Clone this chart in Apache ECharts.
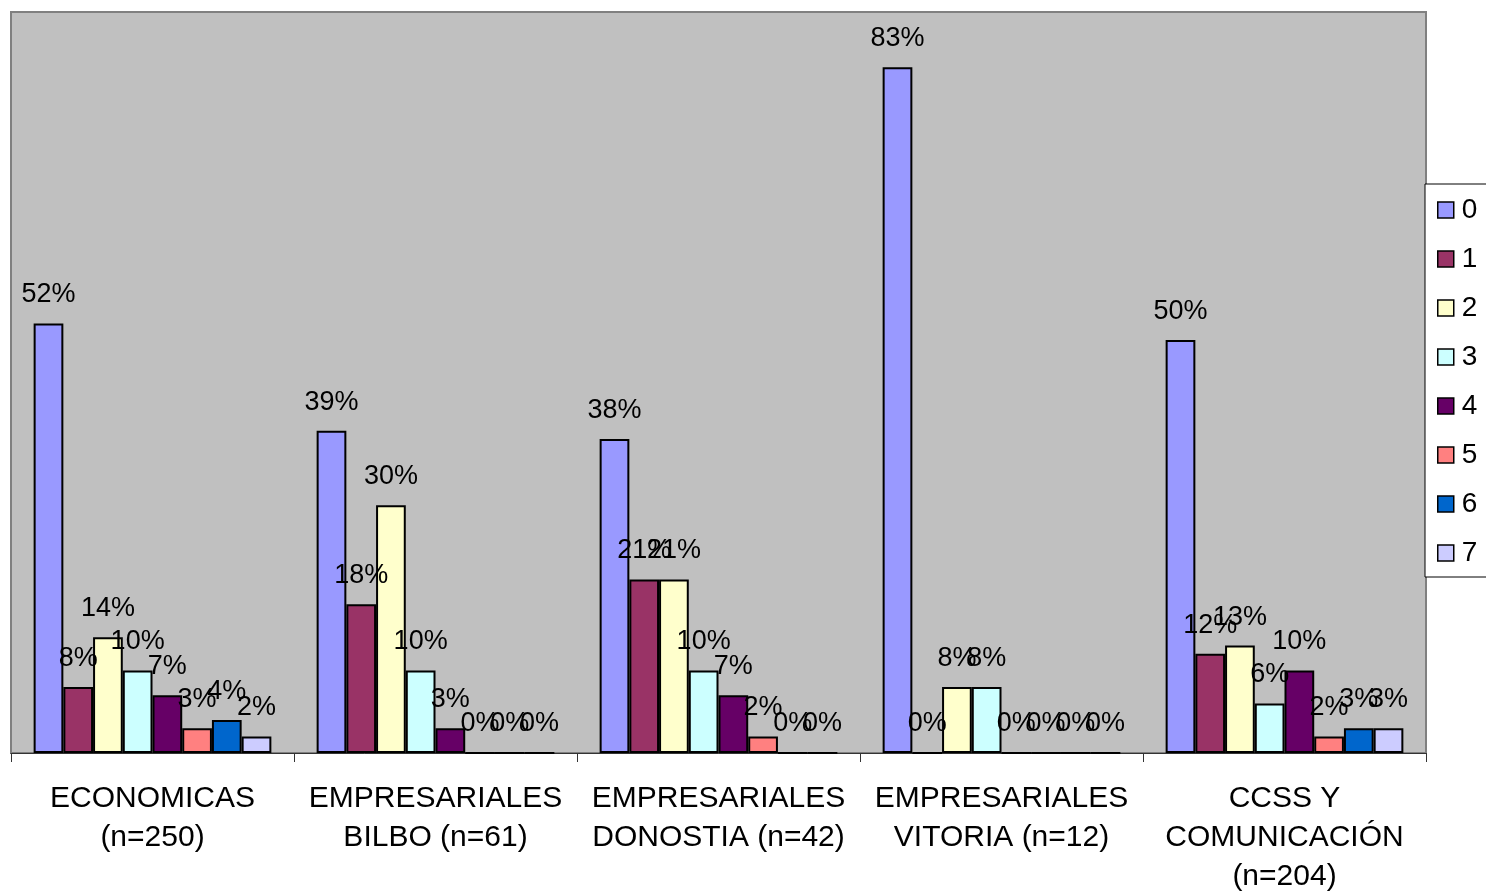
<!DOCTYPE html>
<html>
<head>
<meta charset="utf-8">
<script src="https://cdn.jsdelivr.net/npm/echarts@6/dist/echarts.min.js"></script>
<style>
  html, body { margin: 0; padding: 0; background: #fff; }
  #main { width: 1486px; height: 892px; }
</style>
</head>
<body>
<div id="main"></div>
<script>
// categorias (eje x)
var categories = [
  'ECONOMICAS\n(n=250)',
  'EMPRESARIALES\nBILBO (n=61)',
  'EMPRESARIALES\nDONOSTIA (n=42)',
  'EMPRESARIALES\nVITORIA (n=12)',
  'CCSS Y\nCOMUNICACIÓN\n(n=204)'
];
var seriesNames = ['0', '1', '2', '3', '4', '5', '6', '7'];
var colors = ['#9999FF', '#993366', '#FFFFCC', '#CCFFFF', '#660066', '#FF8080', '#0066CC', '#CCCCFF'];

// porcentaje por serie, en el orden de categories
var s0 = [52, 39, 38, 83, 50];
var s1 = [8, 18, 21, 0, 12];
var s2 = [14, 30, 21, 8, 13];
var s3 = [10, 10, 10, 8, 6];
var s4 = [7, 3, 7, 0, 10];
var s5 = [3, 0, 2, 0, 2];
var s6 = [4, 0, 0, 0, 3];
var s7 = [2, 0, 0, 0, 3];
var values = [s0, s1, s2, s3, s4, s5, s6, s7];

var font = '"Liberation Sans", Arial, sans-serif';
var chart = echarts.init(document.getElementById('main'));

var series = [];
for (var i = 0; i < seriesNames.length; i++) {
  series.push({
    name: seriesNames[i],
    type: 'bar',
    data: values[i],
    barGap: '0%',
    barCategoryGap: '16%',
    itemStyle: {
      color: colors[i],
      borderColor: '#000',
      borderWidth: 2
    },
    label: {
      show: true,
      position: 'top',
      distance: 15,
      formatter: '{c}%',
      color: '#000',
      fontSize: 27,
      fontFamily: font
    }
  });
}

var option = {
  backgroundColor: '#fff',
  animation: false,
  grid: {
    left: 11,
    right: 60,
    top: 12,
    bottom: 139,
    outerBoundsMode: 'none',
    containLabel: false,
    show: true,
    backgroundColor: '#C0C0C0',
    borderColor: '#808080',
    borderWidth: 2
  },
  legend: {
    orient: 'vertical',
    left: 1425,
    top: 184,
    padding: [12, 40, 10, 12],
    itemGap: 21,
    itemWidth: 16,
    itemHeight: 16,
    backgroundColor: '#fff',
    borderColor: '#000',
    borderWidth: 1,
    icon: 'rect',
    itemStyle: { borderColor: '#000', borderWidth: 1.5 },
    textStyle: { fontSize: 28, lineHeight: 28, color: '#000', fontFamily: font, padding: [0, 0, 0, 3] },
    data: seriesNames
  },
  xAxis: {
    type: 'category',
    data: categories,
    axisLine: { lineStyle: { color: '#333', width: 1 } },
    axisTick: { show: true, length: 9, lineStyle: { color: '#333' } },
    axisLabel: {
      color: '#000',
      fontSize: 30,
      lineHeight: 39,
      margin: 26,
      fontFamily: font,
      interval: 0
    }
  },
  yAxis: {
    type: 'value',
    min: 0,
    max: 89.7,
    show: false,
    splitLine: { show: false }
  },
  series: series
};

chart.setOption(option);
</script>
</body>
</html>
